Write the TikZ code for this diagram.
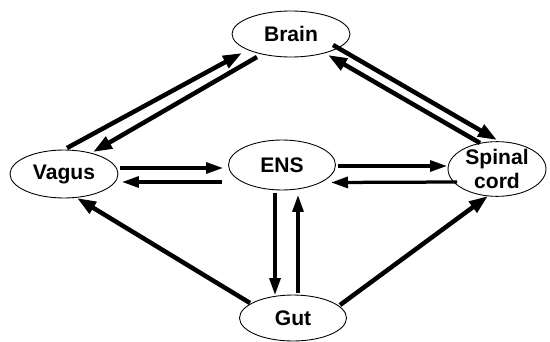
\documentclass[tikz,border=0pt]{standalone}
\usepackage{fontspec}
\setmainfont{Liberation Sans}
\usetikzlibrary{
    arrows.meta,
    calc,
    shapes.geometric
}
\tikzset
{
  organ/.style={draw,ellipse,line width=0.5pt,inner sep=0pt,align=center,font=\fontsize{12}{13.2}\selectfont\bfseries},
  link/.style={line width=0.09cm,-{Triangle[length=0.38cm,width=0.26cm]}},
  flow/.style={line width=0.065cm,-{Triangle[length=0.34cm,width=0.22cm]}}
}

\begin{document}
\begin{tikzpicture}[x=0.02cm,y=-0.02cm]
        \useasboundingbox (0,0) rectangle (550,341);

        % Organs
        \node[organ,minimum width=2.36cm,minimum height=0.92cm] (brain) at (291,34) {Brain};
        \node[organ,minimum width=2.16cm,minimum height=0.96cm] (vagus) at (64,174) {Vagus};
        \node[organ,minimum width=2.14cm,minimum height=1.0cm] (ens) at (282,165) {ENS};
        \node[organ,minimum width=1.96cm,minimum height=0.96cm] (spinal) at (497,169) {Spinal\\cord};
        \node[organ,minimum width=2.14cm,minimum height=0.92cm] (gut) at (293,318) {Gut};

        % Vagus and ENS
        \draw[flow] ($(vagus)+(56,-6)$) -- ($(ens)+(-59,3)$);
        \draw[flow] ($(ens)+(-60,17)$) -- ($(vagus)+(58,8)$);

        % ENS and spinal cord
        \draw[flow] ($(ens)+(56,1)$) -- ($(spinal)+(-50,-3)$);
        \draw[flow] ($(spinal)+(-40,13)$) -- ($(ens)+(49,17.5)$);

        % ENS and gut
        \draw[flow] ($(ens)+(-7,28)$) -- ($(gut)+(-18,-23)$);
        \draw[flow] ($(gut)+(5,-25)$) -- ($(ens)+(16,30)$);

        % Brain and vagus
        \draw[link] ($(vagus)+(3,-26)$) -- ($(brain)+(-49,19)$);
        \draw[link] ($(brain)+(-34,23)$) -- ($(vagus)+(29,-22)$);

        % Brain and spinal cord
        \draw[link] ($(brain)+(42,11)$) -- ($(spinal)+(0,-29)$);
        \draw[link] ($(spinal)+(-17,-26)$) -- ($(brain)+(37,21)$);

        % Gut outwards
        \draw[link] ($(gut)+(-43,-15)$) -- ($(vagus)+(13,24)$);
        \draw[link] ($(gut)+(47,-13)$) -- ($(spinal)+(-9,27)$);
    \end{tikzpicture}
\end{document}
